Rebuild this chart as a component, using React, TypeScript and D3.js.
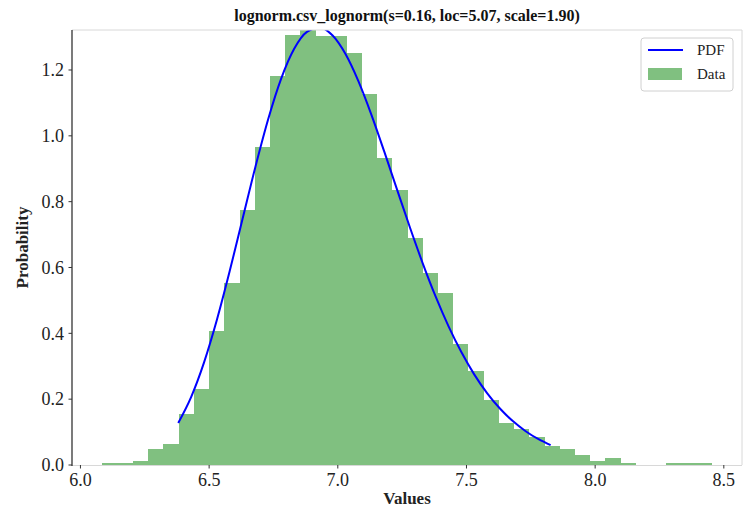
import React from "react";
import * as d3 from "d3";

// ---- data ----
const binStart = 6.0855;
const binWidth = 0.05917;
const binDensity = [
  0.005, 0.005, 0.013, 0.048, 0.064, 0.155, 0.23, 0.407, 0.553, 0.775,
  0.967, 1.182, 1.307, 1.34, 1.304, 1.304, 1.252, 1.128, 0.933, 0.836,
  0.69, 0.584, 0.523, 0.368, 0.285, 0.198, 0.128, 0.109, 0.086, 0.059,
  0.049, 0.031, 0.013, 0.022, 0.007, 0, 0, 0.005, 0.005, 0.005,
];
const pdfX = [
  6.38, 6.43, 6.48, 6.53, 6.58, 6.63, 6.68, 6.73, 6.78, 6.83, 6.88, 6.93,
  6.98, 7.03, 7.08, 7.13, 7.18, 7.23, 7.28, 7.33, 7.38, 7.43, 7.48, 7.53,
  7.58, 7.63, 7.68, 7.73, 7.78, 7.827,
];
const pdfY = [
  0.1279, 0.2065, 0.3111, 0.4404, 0.589, 0.748, 0.9064, 1.052, 1.1739,
  1.2635, 1.3156, 1.3287, 1.3047, 1.2484, 1.1661, 1.0653, 0.9534, 0.8372,
  0.7222, 0.6128, 0.5121, 0.4219, 0.343, 0.2754, 0.2186, 0.1716, 0.1334,
  0.1027, 0.0784, 0.0604,
];
const xTicks = [6.0, 6.5, 7.0, 7.5, 8.0, 8.5];
const yTicks = [0.0, 0.2, 0.4, 0.6, 0.8, 1.0, 1.2];
const title = "lognorm.csv_lognorm(s=0.16, loc=5.07, scale=1.90)";

const W = 744;
const H = 513;
const left = 72;
const right = 742;
const top = 30;
const bottom = 465;
const FONT = "'Liberation Serif', 'Times New Roman', serif";

export default function App() {
  const dataMin = binStart;
  const dataMax = binStart + binWidth * binDensity.length;
  const pad = (dataMax - dataMin) * 0.05;
  const x = d3.scaleLinear().domain([dataMin - pad, dataMax + pad]).range([left, right]);
  const y = d3.scaleLinear().domain([0, 1.3215]).range([bottom, top]);
  const line = d3
    .line<number>()
    .x((_, i) => x(pdfX[i]))
    .y((d) => y(d))
    .curve(d3.curveMonotoneX);

  return (
    <svg
      width={W}
      height={H}
      style={{ position: "absolute", left: 0, top: 0, background: "#fff" }}
      fontFamily={FONT}
    >
      <defs>
        <clipPath id="plot">
          <rect x={left} y={top} width={right - left} height={bottom - top} />
        </clipPath>
      </defs>
      <rect x={0} y={0} width={W} height={H} fill="#fff" />
      <g clipPath="url(#plot)">
        <g shapeRendering="crispEdges">
          {binDensity.map((d, i) =>
            d > 0 ? (
              <rect
                key={i}
                x={x(binStart + i * binWidth)}
                y={y(d)}
                width={x(binStart + (i + 1) * binWidth) - x(binStart + i * binWidth) + 0.5}
                height={y(0) - y(d)}
                fill="#80c080"
              />
            ) : null
          )}
        </g>
        <path d={line(pdfY) || ""} fill="none" stroke="#0000ff" strokeWidth={2} />
      </g>
      {/* frame */}
      <line x1={left} x2={right} y1={top} y2={top} stroke="#d8d8d8" strokeWidth={1} />
      <line x1={right} x2={right} y1={top} y2={bottom} stroke="#d8d8d8" strokeWidth={1} />
      <line x1={left} x2={right} y1={bottom + 0.5} y2={bottom + 0.5} stroke="#d8d8d8" strokeWidth={1} />
      <line x1={left} x2={left} y1={top} y2={bottom + 1} stroke="#222" strokeWidth={1.2} />
      {/* x ticks */}
      {xTicks.map((t) => (
        <g key={t} transform={`translate(${x(t)},${bottom})`}>
          <line y1={0} y2={3.5} stroke="#333" strokeWidth={1} />
          <text y={21} textAnchor="middle" fontSize={18} fill="#222">
            {t.toFixed(1)}
          </text>
        </g>
      ))}
      {/* y ticks */}
      {yTicks.map((t) => (
        <g key={t} transform={`translate(${left},${y(t)})`}>
          <line x1={0} x2={-3.5} stroke="#333" strokeWidth={1} />
          <text x={-8} dy="0.35em" textAnchor="end" fontSize={18} fill="#222">
            {t.toFixed(1)}
          </text>
        </g>
      ))}
      <text x={(left + right) / 2} y={504} textAnchor="middle" fontSize={17} fontWeight="bold" fill="#222">
        Values
      </text>
      <text
        transform={`translate(28,${(top + bottom) / 2}) rotate(-90)`}
        textAnchor="middle"
        fontSize={17}
        fontWeight="bold"
        fill="#222"
      >
        Probability
      </text>
      <text x={(left + right) / 2} y={21} textAnchor="middle" fontSize={16} fontWeight="bold" fill="#111">
        {title}
      </text>
      {/* legend */}
      <g>
        <rect x={641} y={38} width={92} height={53} rx={3} fill="#fff" fillOpacity={0.8} stroke="#d0d0d0" />
        <line x1={648} x2={683} y1={50} y2={50} stroke="#0000ff" strokeWidth={2} />
        <text x={697} y={55} fontSize={15} fill="#222">
          PDF
        </text>
        <rect x={648} y={68} width={34} height={12} fill="#80c080" />
        <text x={697} y={79} fontSize={15} fill="#222">
          Data
        </text>
      </g>
    </svg>
  );
}
